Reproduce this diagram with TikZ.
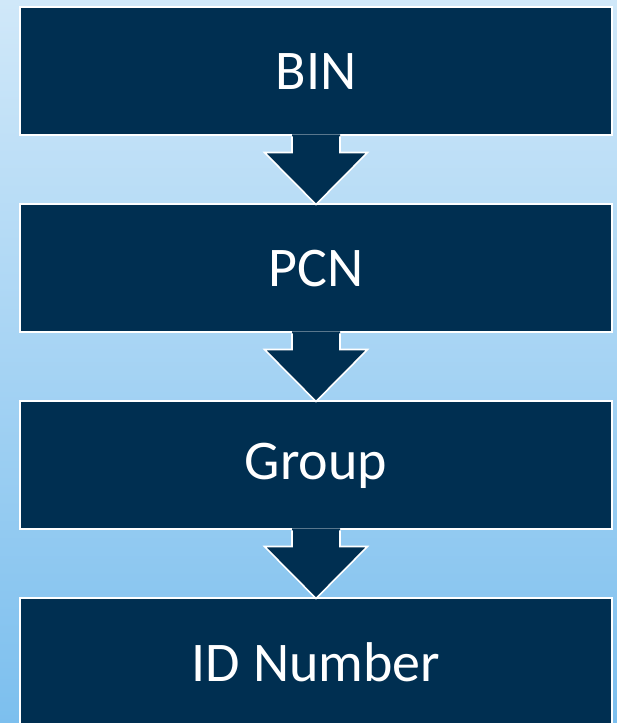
\documentclass[tikz,border=0pt]{standalone}
\usepackage{fontspec}
\setmainfont{Carlito}
\usepackage{tikz}
\usetikzlibrary{positioning, calc}
\usepackage{xcolor}
\definecolor{stepnavy}{RGB}{0,47,81}
\definecolor{bgtop}{RGB}{208,232,249}
\definecolor{bgbottom}{RGB}{124,191,238}

\begin{document}
\begin{tikzpicture}[
  x=1pt, y=1pt,
  stepbox/.style={rectangle, draw=white, line width=2pt, fill=stepnavy,
                minimum width=592pt, minimum height=128pt, inner sep=0pt, outer sep=0pt,
                text=white, font=\fontsize{56}{62}\selectfont},
  blockarrow/.style={draw=white, line width=1.6pt, line join=miter},
  node distance=69pt
]

% === Background ===
\shade[top color=bgtop, bottom color=bgbottom] (0,0) rectangle (617,723);
\useasboundingbox (0,0) rectangle (617,723);

% === Steps (top to bottom) ===
\node[stepbox] (bin) at (316, 651.5) {BIN};
\node[stepbox, below=of bin] (pcn) {PCN};
\node[stepbox, below=of pcn] (grp) {Group};
\node[stepbox, below=of grp] (idn) {ID Number};

% === Block arrows between steps ===
\foreach \a/\b in {bin/pcn, pcn/grp, grp/idn} {
  \fill[stepnavy] ($(\a.south)+(-24,1)$) -- ($(\a.south)+(-24,-17)$)
    -- ($(\a.south)+(-51.5,-17)$) -- (\b.north) -- ($(\a.south)+(51.5,-17)$)
    -- ($(\a.south)+(24,-17)$) -- ($(\a.south)+(24,1)$) -- cycle;
  \draw[blockarrow] ($(\a.south)+(-24,-1)$) -- ($(\a.south)+(-24,-17)$)
    -- ($(\a.south)+(-51.5,-17)$) -- (\b.north) -- ($(\a.south)+(51.5,-17)$)
    -- ($(\a.south)+(24,-17)$) -- ($(\a.south)+(24,-1)$);
}

\end{tikzpicture}
\end{document}
